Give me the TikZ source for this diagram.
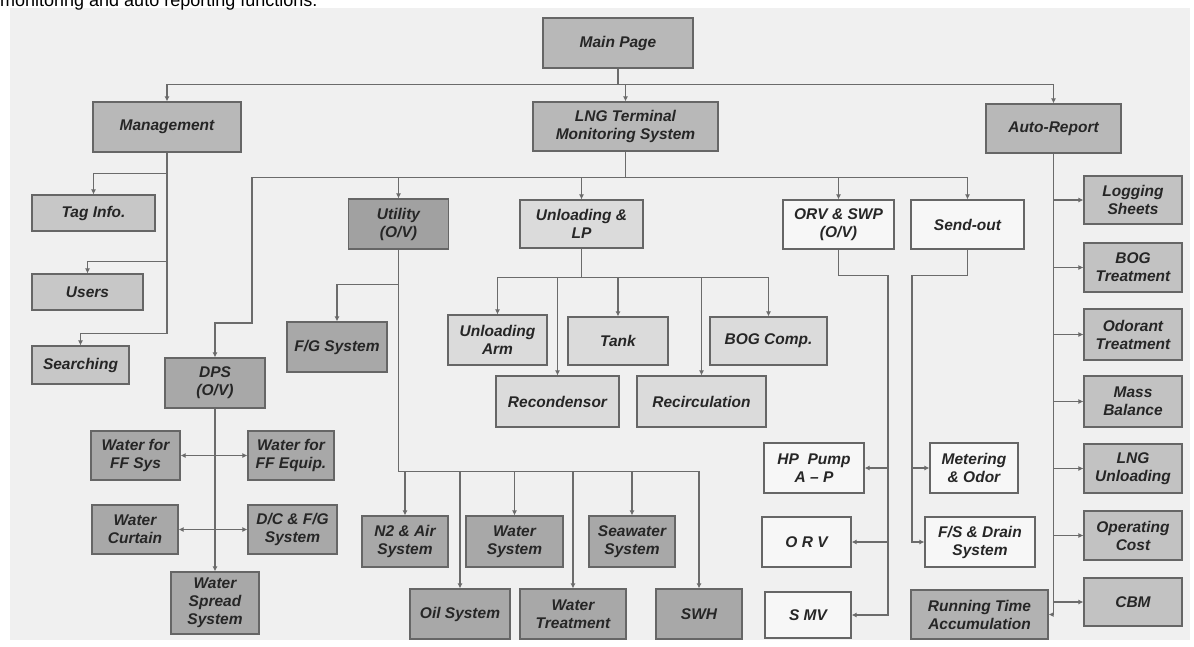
\documentclass[tikz,border=0pt]{standalone}
\usepackage{fontspec}
\setmainfont{Liberation Sans}
\usetikzlibrary{arrows.meta}
\definecolor{bggray}{gray}{0.94}
\definecolor{topgray}{gray}{0.72}
\definecolor{mgmtgray}{gray}{0.78}
\definecolor{utilgray}{gray}{0.63}
\definecolor{unlgray}{gray}{0.86}
\definecolor{sendgray}{gray}{0.97}
\definecolor{dpsgray}{gray}{0.66}
\definecolor{rptgray}{gray}{0.76}
\definecolor{rungray}{gray}{0.70}
\definecolor{linegray}{gray}{0.42}
\definecolor{edgegray}{gray}{0.40}
\definecolor{textgray}{gray}{0.15}

\begin{document}
\begin{tikzpicture}[x=1pt,y=-1pt,>={Latex[length=5pt,width=5pt]},
    sz/.style 2 args={minimum width=#1pt,minimum height=#2pt},
    box/.style={draw=edgegray,line width=1.2pt,inner sep=1pt,align=center,text=textgray,
        font=\bfseries\itshape\fontsize{15.5}{18}\selectfont},
    topbox/.style={box,fill=topgray},
    mgmtbox/.style={box,fill=mgmtgray},
    utilbox/.style={box,fill=utilgray},
    unlbox/.style={box,fill=unlgray},
    sendbox/.style={box,fill=sendgray},
    dpsbox/.style={box,fill=dpsgray},
    rptbox/.style={box,fill=rptgray},
    link/.style={draw=linegray,line width=1.2pt}]

        \useasboundingbox (0,0) rectangle (1194,646);
        \clip (0,0) rectangle (1194,646);
        \fill[white] (0,0) rectangle (1194,646);
        \fill[bggray] (10,8) rectangle (1190,640);
        \node[anchor=base west,inner sep=0pt,font=\fontsize{18}{20}\selectfont] (caption) at (0,6) {monitoring and auto reporting functions.};

        % top level
        \node[topbox, sz={150}{50}] (main) at (618,43) {Main Page};
        \node[topbox, sz={148}{50}] (mgmt) at (167,127) {Management};
        \node[topbox, sz={185}{49}] (lng) at (625.5,126.5) {LNG Terminal\\Monitoring System};
        \node[topbox, sz={135}{49}] (auto) at (1053.5,128.5) {Auto-Report};

        % management
        \node[mgmtbox, sz={123}{36}] (tag) at (93.5,213) {Tag Info.};
        \node[mgmtbox, sz={111}{36}] (users) at (87.5,292) {Users};
        \node[mgmtbox, sz={97}{38}] (search) at (80.5,365) {Searching};

        % terminal
        \node[utilbox, sz={100}{50}] (util) at (398.5,224) {Utility\\(O/V)};
        \node[unlbox, sz={123}{48}] (unl) at (581.5,224) {Unloading \&\\LP};
        \node[sendbox, sz={111}{49}] (orv) at (838.5,224.5) {ORV \& SWP\\(O/V)};
        \node[sendbox, sz={113}{49}] (send) at (967.5,224.5) {Send-out};
        \node[dpsbox, sz={100}{50}] (fgs) at (337,347) {F/G System};
        \node[dpsbox, sz={100}{50}] (dps) at (215,383) {DPS\\(O/V)};

        % unloading
        \node[unlbox, sz={99}{50}] (arm) at (497.5,340) {Unloading\\Arm};
        \node[unlbox, sz={100}{48}] (tank) at (618,341) {Tank};
        \node[unlbox, sz={117}{48}] (bogc) at (768.5,341) {BOG Comp.};
        \node[unlbox, sz={123}{51}] (recon) at (557.5,401.5) {Recondensor};
        \node[unlbox, sz={129}{51}] (recirc) at (701.5,401.5) {Recirculation};

        % DPS
        \node[dpsbox, sz={89}{49}] (ffs) at (135.5,455.5) {Water for\\FF Sys};
        \node[dpsbox, sz={86}{49}] (ffe) at (291,455.5) {Water for\\FF Equip.};
        \node[dpsbox, sz={86}{49}] (curtain) at (135,529.5) {Water\\Curtain};
        \node[dpsbox, sz={89}{49}] (dcfg) at (292.5,529.5) {D/C \& F/G\\System};
        \node[dpsbox, sz={88}{62}] (spread) at (215,603) {Water\\Spread\\System};

        % utility
        \node[dpsbox, sz={86}{51}] (n2) at (405,541.5) {N2 \& Air\\System};
        \node[dpsbox, sz={97}{51}] (wsys) at (514.5,541.5) {Water\\System};
        \node[dpsbox, sz={86}{51}] (sea) at (632,541.5) {Seawater\\System};
        \node[dpsbox, sz={100}{50}] (oil) at (460,614) {Oil System};
        \node[dpsbox, sz={106}{50}] (wtr) at (573,614) {Water\\Treatment};
        \node[dpsbox, sz={86}{50}] (swh) at (699,614) {SWH};

        % ORV & SWP, send-out
        \node[sendbox, sz={100}{50}] (hp) at (814,468) {HP\ \ Pump\\A -- P};
        \node[sendbox, sz={89}{50}] (orvb) at (806.5,542) {O R V};
        \node[sendbox, sz={86}{46}] (smv) at (808,615) {S MV};
        \node[sendbox, sz={88}{50}] (meter) at (974,468) {Metering\\\& Odor};
        \node[sendbox, sz={110}{50}] (fsd) at (980,542) {F/S \& Drain\\System};
        \node[box, fill=rungray, sz={137}{49}] (run) at (979.5,614.5) {Running Time\\Accumulation};

        % auto-report
        \node[rptbox, sz={98}{48}] (logs) at (1133,200) {Logging\\Sheets};
        \node[rptbox, sz={98}{49}] (bogt) at (1133,267.5) {BOG\\Treatment};
        \node[rptbox, sz={98}{51}] (odor) at (1133,334.5) {Odorant\\Treatment};
        \node[rptbox, sz={98}{51}] (mass) at (1133,401.5) {Mass\\Balance};
        \node[rptbox, sz={98}{49}] (lngu) at (1133,468.5) {LNG\\Unloading};
        \node[rptbox, sz={98}{49}] (cost) at (1133,535.5) {Operating\\Cost};
        \node[rptbox, sz={98}{48}] (cbm) at (1133,602) {CBM};

        \coordinate (dpsx) at (252,323);
        \coordinate (orvx) at (888,0);
        \coordinate (sendx) at (912,0);

        \draw[link,->] (main.south) -- ++(0,16) -| (mgmt.north);
        \draw[link,->] (main.south) -- ++(0,16) -| (auto.north);
        \draw[link,->] (lng.north |- 0,84) -- (lng.north);

        \draw[link,->] (mgmt.south) -- ++(0,21) -| (tag.north);
        \draw[link,->] (mgmt.south) -- ++(0,109) -| (users.north);
        \draw[link,->] (mgmt.south) -- ++(0,181) -| (search.north);

        \draw[link,->] (lng.south) -- ++(0,26) -| (dpsx) -| (dps.north);
        \foreach \n in {util,unl,orv,send}
            \draw[link,->] (lng.south) -- ++(0,26) -| (\n.north);

        \draw[link,->] (util.south) -- ++(0,35) -| (fgs.north);
        \foreach \n in {n2,oil,wsys,wtr,sea,swh}
            \draw[link,->] (util.south) -- ++(0,222) -| (\n.north);

        \foreach \n in {arm,recon,tank,recirc,bogc}
            \draw[link,->] (unl.south) -- ++(0,29) -| (\n.north);

        \draw[link,->] (dps.south) -- (spread.north);
        \draw[link,->] (dps.south |- ffs.east) -- (ffs.east);
        \draw[link,->] (dps.south |- ffe.west) -- (ffe.west);
        \draw[link,->] (dps.south |- curtain.east) -- (curtain.east);
        \draw[link,->] (dps.south |- dcfg.west) -- (dcfg.west);

        \draw[link,->] (orv.south) -- ++(0,26) -| (orvx |- smv.east) -- (smv.east);
        \draw[link,->] (orvx |- hp.east) -- (hp.east);
        \draw[link,->] (orvx |- orvb.east) -- (orvb.east);

        \draw[link,->] (send.south) -- ++(0,26) -| (sendx |- fsd.west) -- (fsd.west);
        \draw[link,->] (sendx |- meter.west) -- (meter.west);

        \draw[link,->] (auto.south) -- (auto.south |- run.east) -- (run.east);
        \foreach \n in {logs,bogt,odor,mass,lngu,cost,cbm}
            \draw[link,->] (auto.south |- \n.west) -- (\n.west);

    \end{tikzpicture}
\end{document}
